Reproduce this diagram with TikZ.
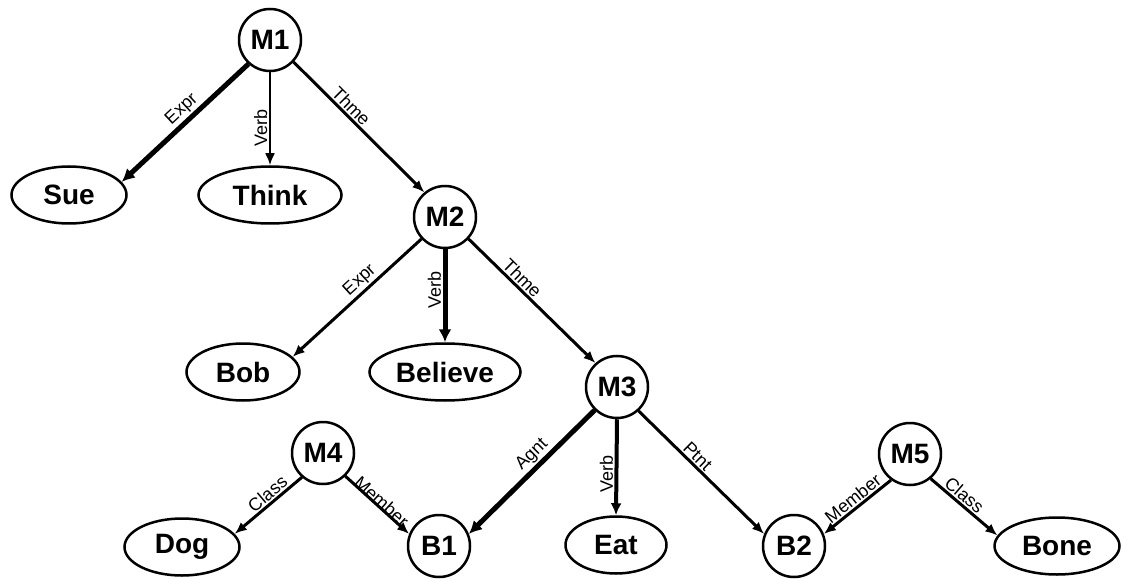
\documentclass[tikz,border=0pt]{standalone}
\usepackage{fontspec}
\setmainfont{Liberation Sans}
\usetikzlibrary{arrows.meta,shapes.geometric}
\tikzset{
  mnode/.style={circle,draw,line width=2.5pt,minimum size=62pt,inner sep=0pt,
    font=\fontsize{28}{28}\selectfont\bfseries},
  enode/.style={ellipse,draw,line width=2.5pt,minimum height=57pt,inner sep=0pt,
    font=\fontsize{28}{28}\selectfont\bfseries},
  rel/.style={line width=3pt,-{Latex[length=12pt,width=10pt]}},
  thinrel/.style={rel,line width=2.2pt},
  thickrel/.style={line width=5pt,-{Latex[length=13pt,width=13pt]}},
  midrel/.style={line width=4pt,-{Latex[length=12pt,width=11pt]}},
  lab/.style={sloped,above,inner sep=1.5pt,font=\fontsize{18}{18}\selectfont},
  vlab/.style={rotate=90,above,inner sep=1.5pt,font=\fontsize{18}{18}\selectfont}
}
\begin{document}
\begin{tikzpicture}[x=1pt,y=-1pt]
\useasboundingbox (0,0) rectangle (1122,580);
% nodes
\node[mnode] (m1) at (270,40) {M1};
\node[enode,minimum width=115pt] (sue) at (69,195) {Sue};
\node[enode,minimum width=143pt] (think) at (270,195) {Think};
\node[mnode] (m2) at (445,217) {M2};
\node[enode,minimum width=113pt] (bob) at (243,372) {Bob};
\node[enode,minimum width=151pt] (believe) at (445,372) {Believe};
\node[mnode] (m3) at (617,387) {M3};
\node[mnode] (m4) at (323,453) {M4};
\node[mnode] (m5) at (910,454) {M5};
\node[enode,minimum width=115pt] (dog) at (182,547) {Dog};
\node[mnode] (b1) at (439,546) {B1};
\node[enode,minimum width=101pt] (eat) at (616,545) {Eat};
\node[mnode] (b2) at (794,546) {B2};
\node[enode,minimum width=125pt] (bone) at (1057,546) {Bone};
% edges
\draw[thickrel] (m1.228) -- node[lab,pos=.46] {Expr} (sue.14);
\draw[thinrel] (m1.south) -- node[vlab,pos=.6] {Verb} (think.north);
\draw[rel] (m1.317) -- node[lab,pos=.39] {Thme} (m2.130);
\draw[rel] (m2.223) -- node[lab,pos=.42] {Expr} (bob.17);
\draw[thickrel] (m2.south) -- node[vlab,pos=.44] {Verb} (believe.north);
\draw[rel] (m2.317) -- node[lab,pos=.37] {Thme} (m3.132);
\draw[thickrel] (m3.226) -- node[lab,pos=.43] {Agnt} (b1.22);
\draw[midrel] (m3.south) -- node[vlab,pos=.57] {Verb} (eat.north);
\draw[rel] (m3.312) -- node[lab,pos=.42] {Ptnt} (b2.158);
\draw[rel] (m4.229) -- node[lab,pos=.42] {Class} (dog.14);
\draw[rel] (m4.314) -- node[lab,pos=.51,above=-4pt] {Member} (b1.158);
\draw[rel] (m5.234) -- node[lab,pos=.48] {Member} (b2.22);
\draw[rel] (m5.310) -- node[lab,pos=.415] {Class} (bone.170);
\end{tikzpicture}
\end{document}
